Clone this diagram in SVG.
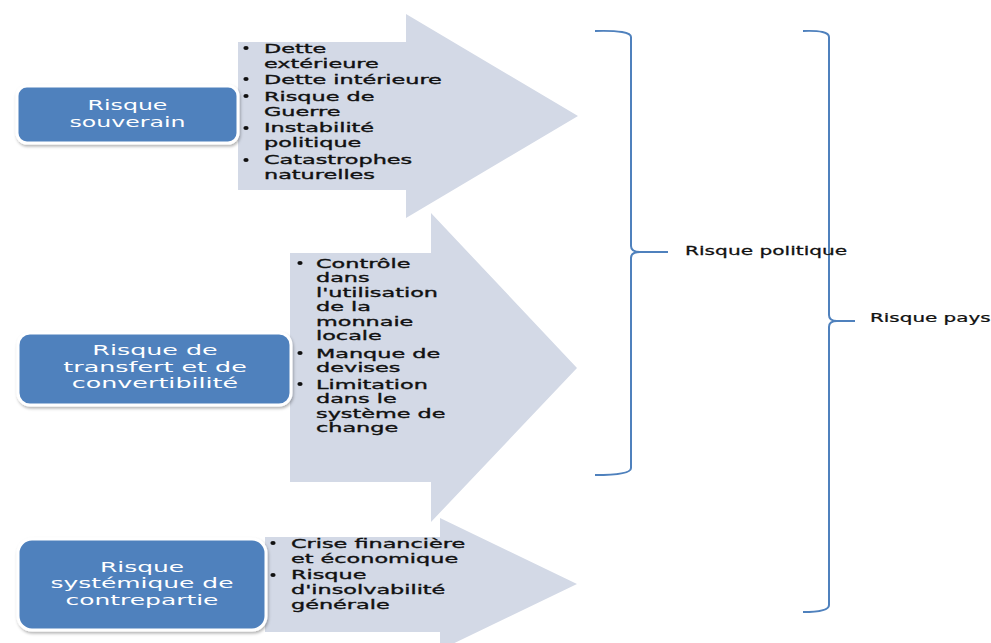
<svg xmlns="http://www.w3.org/2000/svg" width="991" height="643" viewBox="0 0 991 643">
<style>
.arrow{fill:#d3d9e6;}
.box{fill:#4f81bd;stroke:#ffffff;stroke-width:3;filter:url(#sh);}
.bt{font-family:"DejaVu Sans","Liberation Sans",sans-serif;font-size:13px;fill:#111;stroke:#111;stroke-width:0.35;}
.wt{font-family:"DejaVu Sans","Liberation Sans",sans-serif;font-size:14.5px;fill:#ffffff;text-anchor:middle;}
.lbl{font-family:"DejaVu Sans","Liberation Sans",sans-serif;font-size:12px;fill:#111;stroke:#111;stroke-width:0.25;}
.brace{fill:none;stroke:#4f81bd;stroke-width:2;}
.dot{fill:#111;}
</style>
<defs>
<filter id="sh" x="-10%" y="-20%" width="120%" height="150%">
<feDropShadow dx="1" dy="2" stdDeviation="1.5" flood-color="#000" flood-opacity="0.3"/>
</filter>
</defs>
<rect width="991" height="643" fill="#ffffff"/>

<g id="arrow-souverain">
<path class="arrow" d="M238,42 L406,42 L406,14 L578,116 L406,218 L406,190 L238,190 Z"/>
<ellipse class="dot" cx="246" cy="48" rx="2.6" ry="2.1"/>
<ellipse class="dot" cx="246" cy="79" rx="2.6" ry="2.1"/>
<ellipse class="dot" cx="246" cy="96" rx="2.6" ry="2.1"/>
<ellipse class="dot" cx="246" cy="128" rx="2.6" ry="2.1"/>
<ellipse class="dot" cx="246" cy="160" rx="2.6" ry="2.1"/>
<g class="bt" transform="matrix(1.72 0 0 1 264 0)">
<text y="53">Dette</text>
<text y="68">extérieure</text>
<text y="84">Dette intérieure</text>
<text y="101">Risque de</text>
<text y="116">Guerre</text>
<text y="132">Instabilité</text>
<text y="147">politique</text>
<text y="164">Catastrophes</text>
<text y="179">naturelles</text>
</g>
</g>

<g id="arrow-transfert">
<path class="arrow" d="M290,253 L431,253 L431,213 L577,368 L431,522 L431,482 L290,482 Z"/>
<ellipse class="dot" cx="300" cy="263" rx="2.6" ry="2.1"/>
<ellipse class="dot" cx="300" cy="353" rx="2.6" ry="2.1"/>
<ellipse class="dot" cx="300" cy="384" rx="2.6" ry="2.1"/>
<g class="bt" transform="matrix(1.72 0 0 1 316 0)">
<text y="268">Contrôle</text>
<text y="282">dans</text>
<text y="297">l'utilisation</text>
<text y="311">de la</text>
<text y="326">monnaie</text>
<text y="340">locale</text>
<text y="358">Manque de</text>
<text y="372">devises</text>
<text y="389">Limitation</text>
<text y="403">dans le</text>
<text y="418">système de</text>
<text y="432">change</text>
</g>
</g>

<g id="arrow-systemique">
<path class="arrow" d="M265,537 L440,537 L440,518 L577,584 L440,650 L440,632 L265,632 Z"/>
<ellipse class="dot" cx="273" cy="543" rx="2.6" ry="2.1"/>
<ellipse class="dot" cx="273" cy="575" rx="2.6" ry="2.1"/>
<g class="bt" transform="matrix(1.72 0 0 1 291 0)">
<text y="548">Crise financière</text>
<text y="563">et économique</text>
<text y="579">Risque</text>
<text y="594">d'insolvabilité</text>
<text y="609">générale</text>
</g>
</g>

<g id="box-souverain">
<rect class="box" x="17" y="86" width="221" height="57" rx="10"/>
<g class="wt" transform="matrix(1.63 0 0 1 127.5 0)">
<text y="110">Risque</text>
<text y="127">souverain</text>
</g>
</g>

<g id="box-transfert">
<rect class="box" x="18" y="333" width="273" height="72" rx="12"/>
<g class="wt" transform="matrix(1.75 0 0 1 155 0)">
<text y="355">Risque de</text>
<text y="372">transfert et de</text>
<text y="388">convertibilité</text>
</g>
</g>

<g id="box-systemique">
<rect class="box" x="18" y="539" width="248" height="91" rx="14"/>
<g class="wt" transform="matrix(1.72 0 0 1 142 0)">
<text y="572">Risque</text>
<text y="588">systémique de</text>
<text y="605">contrepartie</text>
</g>
</g>

<g id="connectors">
<path class="brace" d="M595,31 Q631,30 631,37 L631,246 Q631,252 640,252 L668,252 M640,252 Q631,252 631,258 L631,468 Q631,475 595,475"/>
<path class="brace" d="M803,31 Q829,30 829,37 L829,315 Q829,321 837,321 L855,321 M837,321 Q829,321 829,327 L829,605 Q829,612 803,612"/>
</g>

<g id="label-politique" class="lbl" transform="matrix(1.68 0 0 1 685 0)">
<text y="255">Risque politique</text>
</g>
<g id="label-pays" class="lbl" transform="matrix(1.66 0 0 1 870 0)">
<text y="322">Risque pays</text>
</g>
</svg>
